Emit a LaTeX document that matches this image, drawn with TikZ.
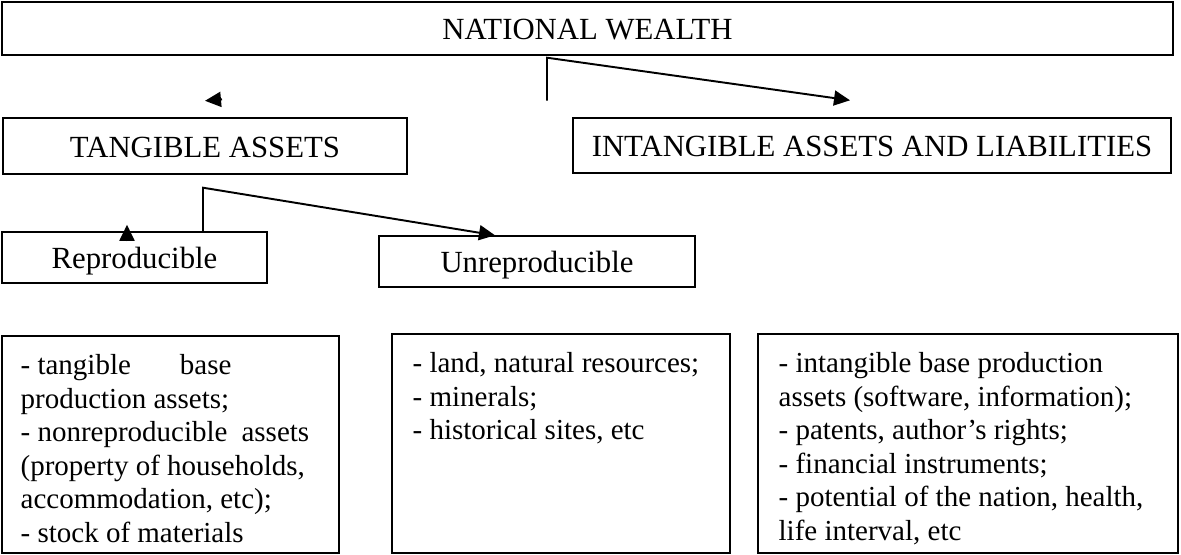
\documentclass[tikz,border=0pt]{standalone}
\usepackage{fontspec}
\setmainfont{Liberation Serif}
\usetikzlibrary{arrows.meta}

\begin{document}
\begin{tikzpicture}[
        box/.style={rectangle, draw=black, line width=0.8pt, inner sep=0pt, text height=0.5cm, text depth=0.06cm, font=\fontsize{17.5}{21}\selectfont},
        listbox/.style={rectangle, draw=black, line width=0.8pt, inner sep=0pt},
        items/.style={anchor=north west, align=left, inner sep=0pt, font=\fontsize{16.5}{19.06}\selectfont},
        link/.style={line width=1pt, draw=black},
        arrow/.style={-{Triangle[length=0.32cm, width=0.3cm]}, line width=1.1pt, draw=black}
    ]
        \useasboundingbox (0,0) rectangle (23.62,-11.08);
        % headings
        \node[box, minimum width=23.42cm, minimum height=1.06cm] (nw) at (11.75,-0.57) {NATIONAL WEALTH};
        \node[box, minimum width=8.08cm, minimum height=1.12cm] (tang) at (4.10,-2.92) {TANGIBLE ASSETS};
        \node[box, minimum width=11.96cm, minimum height=1.10cm] (intang) at (17.44,-2.91) {INTANGIBLE ASSETS AND LIABILITIES};
        \node[box, minimum width=5.30cm, minimum height=1.02cm] (rep) at (2.69,-5.15) {Reproducible};
        \node[box, minimum width=6.32cm, minimum height=1.02cm] (unrep) at (10.74,-5.23) {Unreproducible};
        % lists
        \node[listbox, minimum width=6.74cm, minimum height=4.34cm] (replist) at (3.41,-8.89) {};
        \node[listbox, minimum width=6.76cm, minimum height=4.38cm] (unreplist) at (11.22,-8.87) {};
        \node[listbox, minimum width=8.40cm, minimum height=4.38cm] (intanglist) at (19.36,-8.87) {};
        \node[items] (reptext) at ([xshift=0.38cm, yshift=-0.38cm]replist.north west) {- tangible\hspace{0.98cm}base\\production assets;\\- nonreproducible\hspace{0.28cm}assets\\(property of households,\\accommodation, etc);\\- stock of materials};
        \node[items] (unreptext) at ([xshift=0.42cm, yshift=-0.38cm]unreplist.north west) {- land, natural resources;\\- minerals;\\- historical sites, etc};
        \node[items] (intangtext) at ([xshift=0.42cm, yshift=-0.38cm]intanglist.north west) {- intangible base production\\assets (software, information);\\- patents, author's rights;\\- financial instruments;\\- potential of the nation, health,\\life interval, etc};
        % connectors
        \coordinate (nwfork) at ([xshift=-0.81cm, yshift=-0.04cm]nw.south);
        \coordinate (nwstem) at ([xshift=-0.81cm, yshift=-0.90cm]nw.south);
        \coordinate (intangtip) at ([xshift=-0.44cm, yshift=0.34cm]intang.north);
        \coordinate (tangtip) at ([yshift=0.33cm]tang.north);
        \coordinate (tangtail) at ([xshift=0.34cm, yshift=0.36cm]tang.north);
        \draw[arrow] (nwstem) -- (nwfork) -- (intangtip);
        \draw[arrow] (tangtail) -- (tangtip);
        \coordinate (tangfork) at ([xshift=-0.04cm, yshift=-0.26cm]tang.south);
        \coordinate (unreptip) at ([xshift=-0.84cm]unrep.north);
        \coordinate (reptip) at ([xshift=-0.15cm, yshift=0.13cm]rep.north);
        \coordinate (reptail) at ([xshift=-0.15cm, yshift=-0.20cm]rep.north);
        \draw[arrow] (tangfork |- rep.north) -- (tangfork) -- (unreptip);
        \draw[arrow] (reptail) -- (reptip);
\end{tikzpicture}
\end{document}
